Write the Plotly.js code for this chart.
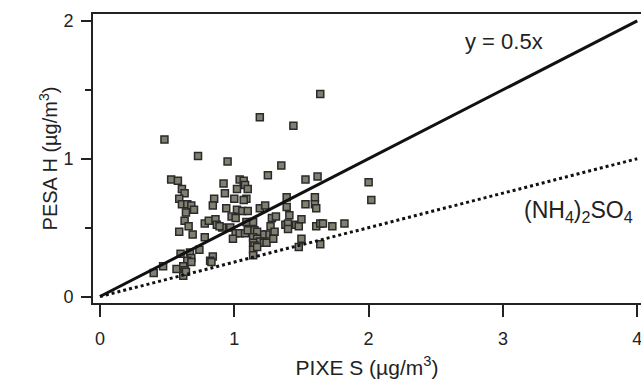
<!DOCTYPE html>
<html>
<head>
<meta charset="utf-8">
<script src="https://cdn.plot.ly/plotly-3.0.1.min.js"></script>
<style>html,body{margin:0;padding:0;background:#fff;}#chart{width:641px;height:383px;}</style>
</head>
<body>
<div id="chart"></div>
<script>
// PIXE S (µg/m3) values
const pixeS = [
0.48,0.73,0.95,0.53,0.58,0.61,0.92,1.04,1.07,1.08,1.02,1.10,0.63,0.59,0.61,0.65,0.68,0.64,0.70,0.63,
0.66,0.59,0.69,0.78,0.81,0.85,0.84,0.93,1.09,1.07,1.00,0.94,1.02,1.06,1.10,0.86,0.87,0.91,0.98,1.01,
0.97,1.01,1.04,1.08,1.10,0.99,0.78,0.74,0.67,0.60,0.68,0.65,0.68,0.84,0.82,0.47,0.57,0.62,0.63,0.62,
0.40,1.64,1.19,1.44,1.35,1.25,1.53,1.62,2.00,2.02,1.19,1.23,1.39,1.39,1.53,1.60,1.60,1.61,0.89,1.09,
1.14,1.28,1.31,1.41,1.27,1.38,1.40,1.40,1.46,1.48,1.50,1.61,1.64,1.66,1.73,1.82,1.30,1.24,1.21,1.15,
1.17,1.14,1.17,1.19,1.22,1.24,1.29,1.14,1.15,1.14,1.17,1.14,1.50,1.48,1.64,0.64,0.83
];
// PESA H (µg/m3) values
const pesaH = [
1.14,1.02,0.98,0.85,0.84,0.78,0.82,0.85,0.84,0.81,0.78,0.78,0.75,0.71,0.67,0.67,0.66,0.61,0.63,0.55,
0.51,0.47,0.45,0.53,0.55,0.71,0.66,0.75,0.71,0.70,0.71,0.64,0.63,0.62,0.62,0.56,0.52,0.50,0.58,0.57,
0.50,0.46,0.46,0.46,0.48,0.42,0.43,0.34,0.32,0.31,0.28,0.26,0.25,0.29,0.26,0.22,0.20,0.22,0.19,0.15,
0.17,1.47,1.30,1.24,0.95,0.88,0.85,0.87,0.83,0.70,0.64,0.66,0.72,0.65,0.67,0.72,0.67,0.64,0.51,0.54,
0.54,0.57,0.58,0.59,0.51,0.52,0.53,0.49,0.52,0.51,0.56,0.51,0.53,0.53,0.51,0.53,0.47,0.45,0.45,0.48,
0.47,0.43,0.42,0.40,0.39,0.39,0.42,0.39,0.37,0.34,0.36,0.30,0.42,0.36,0.38,0.18,0.25
];
// reference lines
const lineX = [0, 4];
const halfY = [0, 2];       // y = 0.5x
const sulfateY = [0, 1];    // (NH4)2SO4
const xTicks = [0, 1, 2, 3, 4];
const yTicks = [0, 1, 2];

const FONT = 'Liberation Sans, Arial, sans-serif';

const traces = [
  {x: pixeS, y: pesaH, type: 'scatter', mode: 'markers',
   marker: {symbol: 'square', size: 7, color: '#817f70', line: {color: '#2a2a2a', width: 1.5}},
   cliponaxis: false, hoverinfo: 'skip'},
  {x: lineX, y: halfY, type: 'scatter', mode: 'lines',
   line: {color: '#111', width: 3}, hoverinfo: 'skip'},
  {x: lineX, y: sulfateY, type: 'scatter', mode: 'lines',
   line: {color: '#111', width: 3, dash: 'dot'}, hoverinfo: 'skip'}
];

const layout = {
  width: 641, height: 383,
  margin: {l: 93, r: 0, t: 14, b: 80, pad: 0},
  paper_bgcolor: '#fff', plot_bgcolor: '#fff',
  showlegend: false,
  font: {family: FONT, color: '#222', size: 17},
  xaxis: {
    range: [-0.052, 4.028], tickvals: xTicks, ticktext: xTicks.map(String),
    showgrid: false, zeroline: false,
    showline: true, linecolor: '#222', linewidth: 2, mirror: true,
    ticks: 'outside', ticklen: 12, tickwidth: 2, tickcolor: '#222',
    ticklabeloverflow: 'allow', ticklabelstandoff: 6,
    tickfont: {family: FONT, size: 18, color: '#222'},
    title: {text: 'PIXE S (\u00b5g/m<sup>3</sup>)', font: {family: FONT, size: 21, color: '#222'}, standoff: 13}
  },
  yaxis: {
    range: [-0.047, 2.05], tickvals: yTicks, ticktext: yTicks.map(String),
    showgrid: false, zeroline: false,
    showline: true, linecolor: '#222', linewidth: 2, mirror: false,
    ticks: 'outside', ticklen: 10, tickwidth: 2, tickcolor: '#222',
    ticklabelstandoff: 4,
    minor: {dtick: 0.5, ticks: 'outside', ticklen: 6, tickwidth: 2, tickcolor: '#222', showgrid: false},
    tickfont: {family: FONT, size: 18, color: '#222'},
    title: {text: 'PESA H (\u00b5g/m<sup>3</sup>)', font: {family: FONT, size: 20, color: '#222'}, standoff: 0}
  },
  annotations: [
    {x: 3.01, y: 1.85, xref: 'x', yref: 'y', text: 'y = 0.5x', showarrow: false,
     font: {family: FONT, size: 22, color: '#222'}},
    {x: 3.14, y: 0.62, xref: 'x', yref: 'y', xanchor: 'left',
     text: '(NH<sub>4</sub>)<sub>2</sub>SO<sub>4</sub>', showarrow: false,
     font: {family: FONT, size: 23, color: '#222'}}
  ]
};

Plotly.newPlot('chart', traces, layout, {displayModeBar: false, staticPlot: true});
</script>
</body>
</html>
